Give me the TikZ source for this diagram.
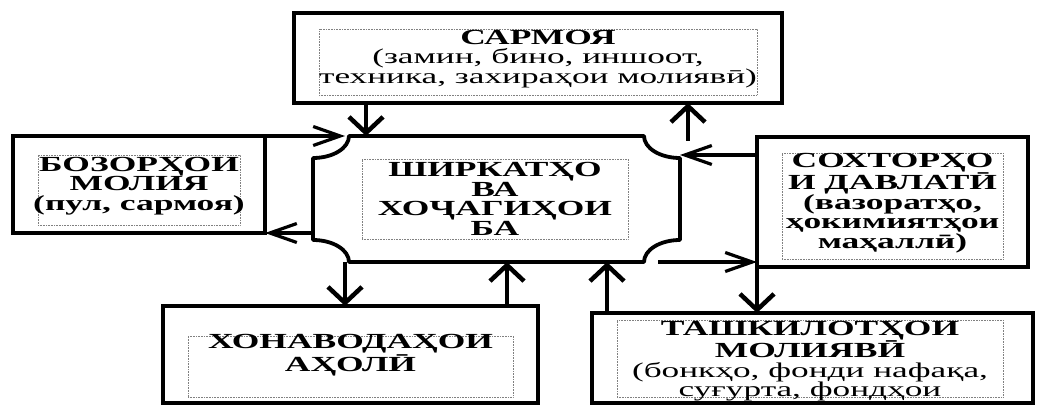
\documentclass[tikz,border=0pt]{standalone}
\usepackage{fontspec}
\setmainfont{Liberation Serif}[FakeStretch=1.65]
\newfontfamily\regfont{Liberation Serif}[FakeStretch=1.68]
\usepackage{tikz}
\usetikzlibrary{calc,positioning,arrows.meta}
\newcommand\regtxt{\regfont\fontsize{21}{20}\selectfont\mdseries}

\begin{document}
\begin{tikzpicture}[x=1pt,y=1pt,
    boxstyle/.style={draw, line width=4pt, inner sep=0, outer sep=0},
    framestyle/.style={draw=gray, densely dotted, line width=0.6pt, inner sep=0},
    txtstyle/.style={align=center, inner sep=0, font=\fontsize{21.5}{19.6}\selectfont\bfseries},
    varrow/.style={line width=4.5pt, -{Straight Barb[length=16pt,width=34pt]}},
    harrow/.style={line width=3.2pt, -{Straight Barb[length=27pt,width=19pt]}}]

    \useasboundingbox (0,0) rectangle (1038,-406);

    \node[boxstyle, minimum width=488pt, minimum height=90pt] (sarmoya) at (538,-58) {};
    \node[framestyle, minimum width=438pt, minimum height=66pt] (sarmoyaframe) at (538,-62) {};
    \node[txtstyle] (sarmoyatxt) at (538,-59) {САРМОЯ\\\regtxt(замин, бино, иншоот,\\\regtxt техника, захираҳои молиявӣ)};

    \node[boxstyle, minimum width=252pt, minimum height=97pt] (bozor) at (139,-184.5) {};
    \node[framestyle, minimum width=202pt, minimum height=70pt] (bozorframe) at (139,-190) {};
    \node[txtstyle] (bozortxt) at (139,-186) {БОЗОРҲОИ\\МОЛИЯ\\(пул, сармоя)};

    \node[inner sep=0, outer sep=0, minimum width=367pt, minimum height=126pt] (firms) at (496.5,-199) {};
    \draw[line width=3.8pt, line join=round]
        ([xshift=36pt]firms.north west) -- ([xshift=-36pt]firms.north east)
        arc[start angle=180, end angle=270, x radius=36pt, y radius=22pt]
        -- ([yshift=22pt]firms.south east)
        arc[start angle=90, end angle=180, x radius=36pt, y radius=22pt]
        -- ([xshift=36pt]firms.south west)
        arc[start angle=0, end angle=90, x radius=36pt, y radius=22pt]
        -- ([yshift=-22pt]firms.north west)
        arc[start angle=270, end angle=360, x radius=36pt, y radius=22pt] -- cycle;
    \node[framestyle, minimum width=266pt, minimum height=80pt] (firmsframe) at (495,-199) {};
    \node[txtstyle] (firmstxt) at (495,-199) {ШИРКАТҲО\\ВА\\ХОҶАГИҲОИ\\БА};

    \node[boxstyle, minimum width=271pt, minimum height=130pt] (sokhtor) at (892.5,-202) {};
    \node[framestyle, minimum width=221pt, minimum height=106pt] (sokhtorframe) at (892.5,-206) {};
    \node[txtstyle] (sokhtortxt) at (892.5,-203) {СОХТОРҲО\\И ДАВЛАТӢ\\(вазоратҳо,\\ҳокимиятҳои\\маҳаллӣ)};

    \node[boxstyle, minimum width=375pt, minimum height=97pt] (khonavoda) at (350.5,-354.5) {};
    \node[framestyle, minimum width=325pt, minimum height=61pt] (khonavodaframe) at (350.5,-366.5) {};
    \node[txtstyle] (khonavodatxt) at (350.5,-355) {ХОНАВОДАҲОИ\\АҲОЛӢ};

    \node[boxstyle, minimum width=441pt, minimum height=90pt] (tashkilot) at (812.5,-358) {};
    \node[framestyle, minimum width=386pt, minimum height=77pt] (tashkilotframe) at (810,-358.5) {};
    \node[txtstyle] (tashkilottxt) at (810,-361) {ТАШКИЛОТҲОИ\\МОЛИЯВӢ\\\regtxt(бонкҳо, фонди нафақа,\\\regtxt суғурта, фондҳои};

    \draw[varrow] ([xshift=53pt]firms.north west |- sarmoya.south) -- ([xshift=53pt]firms.north west);
    \draw[varrow] ([xshift=8pt,yshift=-5pt]firms.north east) -- ([xshift=8pt]firms.north east |- sarmoya.south);
    \draw[harrow] (bozor.north east) -- ([xshift=32pt]firms.north west);
    \draw[harrow] (firms.west |- bozor.south east) -- (bozor.south east);
    \draw[harrow] ([yshift=-18pt]sokhtor.north west) -- ([yshift=-18pt]sokhtor.north west -| firms.east);
    \draw[harrow] ([xshift=-22pt]firms.south east) -- (firms.south east -| sokhtor.west);
    \draw[varrow] (sokhtor.south west) -- (sokhtor.south west |- tashkilot.north);
    \draw[varrow] ([xshift=32pt]firms.south west) -- ([xshift=32pt]firms.south west |- khonavoda.north);
    \draw[varrow] ([xshift=-31pt]khonavoda.north east) -- ([xshift=-31pt]khonavoda.north east |- firms.south);
    \draw[varrow] ([xshift=15pt]tashkilot.north west) -- ([xshift=15pt]tashkilot.north west |- firms.south);

\end{tikzpicture}
\end{document}
